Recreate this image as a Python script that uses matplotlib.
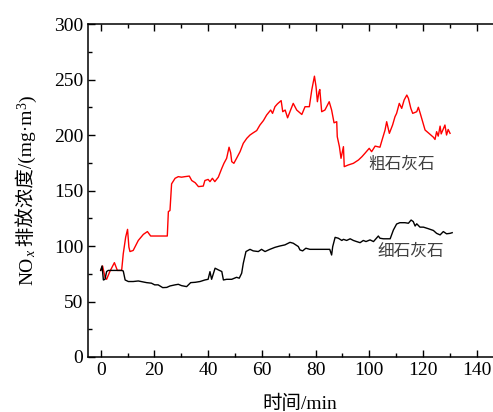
import matplotlib
matplotlib.use("Agg")
import matplotlib.pyplot as plt
from matplotlib.ticker import MultipleLocator
from matplotlib.transforms import IdentityTransform

plt.rcParams['font.family'] = ['Liberation Serif', 'Noto Sans CJK SC']

# coarse limestone (red)
t_coarse = [0, 0.7, 1.6, 2.2, 3.4, 5.1, 6.2, 7.8, 8.4, 9.3, 10.0, 10.5, 10.9, 12.1, 14.0,
            15.9, 17.4, 18.6, 24.8, 25.2, 25.8, 26.4, 27.7, 28.9, 30.1, 31.4, 33.0, 33.9,
            35.2, 36.4, 38.2, 38.8, 40.0, 40.7, 41.6, 42.5, 43.8, 45.1, 45.9, 46.9, 47.8,
            48.4, 48.8, 49.6, 50.6, 51.9, 53.1, 54.4, 55.6, 56.8, 58.1, 59.3, 60.6, 61.8,
            63.3, 64.0, 64.9, 65.8, 67.2, 67.8, 68.7, 69.6, 70.8, 71.7, 73.0, 74.9, 76.1,
            77.7, 78.6, 79.6, 80.2, 80.7, 81.3, 81.6, 82.3, 83.5, 85.1, 86.0, 86.9, 87.9,
            88.1, 88.9, 89.5, 90.4, 90.7, 92.2, 94.1, 96.0, 97.3, 98.4, 100.0, 100.9,
            102.2, 104.0, 104.6, 105.9, 106.5, 107.5, 108.7, 109.6, 110.2, 111.2, 112.1,
            113.0, 114.0, 114.6, 115.5, 116.2, 117.7, 118.3, 119.0, 119.9, 120.8, 122.0,
            123.9, 124.5, 125.1, 125.7, 126.4, 126.8, 127.6, 128.2, 128.8, 129.4, 130.1]
nox_coarse = [78, 82, 72, 70, 77, 85, 78, 78, 93, 108, 115, 99, 95, 96, 105,
              110.5, 113, 109, 109, 131, 132, 156, 161, 162.5, 162, 162.5, 163, 159,
              157, 153.5, 154, 159, 160, 158, 161, 158, 162, 170, 174.5, 179, 189,
              184, 176, 174.5, 179, 185, 192.5, 197, 200, 202, 204, 209, 213, 218,
              222.5, 219.5, 225.5, 228, 231, 221, 222.5, 215.5, 223, 228.5, 222.5, 218.5, 225.5,
              225.5, 240.5, 253, 243.5, 230, 239, 241, 221, 222.5, 230, 222.5, 211, 212,
              198.5, 189.5, 179, 189.5, 171.5, 173, 174.5, 177.5, 180.5, 183.5, 188, 185,
              190, 189, 194, 204.5, 212, 201.5, 209, 216.5, 219.5, 228.5, 224,
              231.5, 236, 233, 224, 219.5, 221, 225, 219.5, 212, 204.5, 202,
              198, 196, 203, 199, 208, 201, 205.5, 209, 200, 205, 201.5]

# fine limestone (black)
t_fine = [0, 0.5, 1.0, 1.6, 2.2, 2.8, 7.8, 8.4, 9.1, 10.3, 12.1, 14.0, 17.1, 18.9, 20.1,
          21.4, 23.1, 24.6, 25.8, 27.7, 28.9, 30.1, 32.0, 33.5, 35.2, 37.0, 38.8, 40.0,
          40.7, 41.3, 42.6, 43.8, 45.1, 45.7, 46.9, 48.8, 50.6, 51.6, 52.5, 53.1, 54.1,
          55.6, 56.8, 58.7, 59.9, 61.2, 63.0, 64.9, 66.7, 68.6, 70.5, 71.7, 73.6, 74.2,
          75.2, 76.4, 77.9, 80.4, 82.8, 85.3, 86.0, 86.4, 87.3, 88.5, 89.8, 90.4, 91.6,
          92.9, 94.1, 95.3, 96.6, 97.8, 98.8, 100.3, 101.6, 103.4, 104.0, 105.3, 107.8,
          109.0, 110.2, 111.4, 113.3, 114.6, 115.6, 116.4, 117.1, 117.7, 118.9, 120.2,
          122.0, 123.9, 125.1, 126.4, 127.6, 128.8, 130.1, 130.9]
nox_fine = [78, 82, 69.4, 70, 77, 78, 78, 77.5, 69.4, 68, 68, 68.5, 67, 66.5, 65,
            65, 62.5, 62.7, 64, 65, 65.5, 64.3, 63.4, 67, 67.3, 68, 69.4, 70,
            76.9, 70, 80, 78.5, 77, 69.4, 70, 70, 71.8, 71, 75.5, 84.4, 95,
            97, 95.6, 95, 97, 95, 97, 98.8, 100, 101, 103.3, 102.5, 99.5, 96.5,
            95.6, 98, 97, 97, 97, 97, 91.9, 99.4, 107.8, 107, 105, 106, 105,
            106.5, 105, 104, 103, 105, 104, 105.5, 104, 109, 107, 106.5, 106.5,
            114.4, 119.8, 121, 121, 120.5, 123.4, 122, 118, 120, 117, 117,
            115.6, 114, 111.4, 110, 113, 111, 111.4, 112]

fig = plt.figure(figsize=(4.93, 4.12), dpi=100)
ax = fig.add_axes([0.1785, 0.1335, 0.8215, 0.8082])

ax.plot(t_coarse, nox_coarse, color='#ff0000', lw=1.0)
ax.plot(t_fine, nox_fine, color='black', lw=1.0)

ax.text(99.6, 173, '粗石灰石', fontsize=12, color='#404040', va='center', ha='left')
ax.text(102.9, 95, '细石灰石', fontsize=12, color='#404040', va='center', ha='left')

ax.set_xlim(-4.73, 146.1)
ax.set_ylim(0, 300)
ax.xaxis.set_major_locator(MultipleLocator(20))
ax.xaxis.set_minor_locator(MultipleLocator(10))
ax.yaxis.set_major_locator(MultipleLocator(50))
ax.yaxis.set_minor_locator(MultipleLocator(25))
ax.tick_params(which='both', direction='in', top=True, right=False, labelsize=14, width=1.0)
ax.tick_params(which='major', length=5)
ax.tick_params(which='minor', length=3)
ax.spines['right'].set_visible(False)
for s in ['left', 'bottom', 'top']:
    ax.spines[s].set_linewidth(1.1)

ax.set_xlabel('时间/min', fontsize=14)
ax.xaxis.set_label_coords(0.523, -0.112)

# y label built piece by piece (subscript x, superscript 3), rotated 90 degrees
renderer = fig.canvas.get_renderer()
ylabel_parts = [
    ('NO', 14, 'normal', 0),
    ('x', 10, 'italic', 3),
    (' 排放浓度/(mg·m', 14, 'normal', 0),
    ('3', 10, 'normal', -6),
    (')', 14, 'normal', 0),
]
base_x = 32
pieces = []
for txt, size, style, shift in ylabel_parts:
    t = fig.text(0, 0, txt, fontsize=size, fontstyle=style,
                 rotation=90, rotation_mode='anchor', ha='left', va='baseline',
                 transform=IdentityTransform())
    pieces.append((t, shift, t.get_window_extent(renderer).height))
total = sum(h for _, _, h in pieces)
pos_y = (412 - 190.5) - total / 2
for t, shift, h in pieces:
    t.set_position((base_x + shift, pos_y))
    pos_y += h

fig.savefig('out.png', dpi=100)
